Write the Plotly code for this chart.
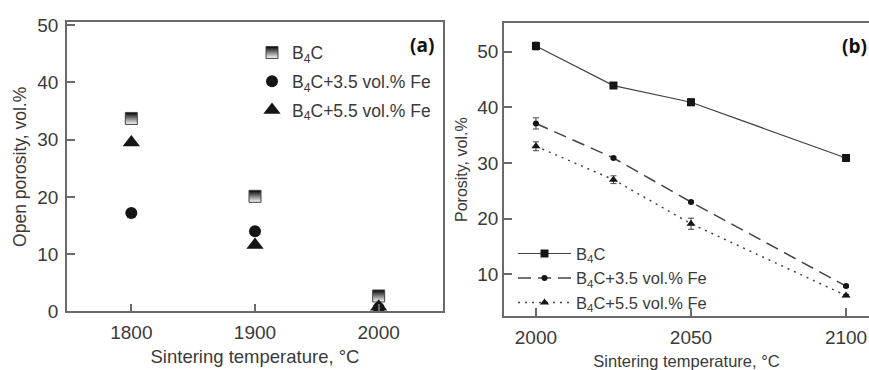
import plotly.graph_objects as go

# ---- data panel (a) ----
temps_a = [1800, 1900, 2000]
b4c_a = [33.7, 20.1, 2.7]
fe35_a = [17.2, 14.0, 0.6]
fe55_a = [29.5, 11.6, 0.8]

# ---- data panel (b) ----
temps_b = [2000, 2025, 2050, 2100]
b4c_b = [51.0, 43.9, 40.9, 30.9]
b4c_b_err = [0.7, 0.3, 0.6, 0.3]
fe35_b = [37.1, 30.9, 23.0, 7.9]
fe35_b_err = [1.0, 0.2, 0.2, 0.2]
fe55_b = [33.0, 27.0, 19.1, 6.2]
fe55_b_err = [0.8, 0.7, 1.0, 0.2]

names = ["B<sub>4</sub>C", "B<sub>4</sub>C+3.5 vol.% Fe", "B<sub>4</sub>C+5.5 vol.% Fe"]

TXT = "#3a3a3a"
AX = "#6a6a6a"
MK = "#151515"
LN = "#444444"
FONT = "Liberation Sans, Arial, sans-serif"

fig = go.Figure()

# panel (a)
fig.add_trace(go.Scatter(x=temps_a, y=b4c_a, mode="markers", name=names[0], legend="legend",
                         legendgroup="a1", xaxis="x", yaxis="y",
                         marker=dict(symbol="square", size=12, color="#000000",
                                     gradient=dict(type="vertical", color="white"),
                                     line=dict(color="#444", width=1))))
fig.add_trace(go.Scatter(x=temps_a, y=fe35_a, mode="markers", name=names[1], legend="legend",
                         legendgroup="a2", xaxis="x", yaxis="y",
                         marker=dict(symbol="circle", size=12, color=MK, line=dict(width=0))))
fig.add_trace(go.Scatter(x=temps_a, y=fe55_a, mode="markers", name=names[2], legend="legend",
                         legendgroup="a3", xaxis="x", yaxis="y",
                         marker=dict(symbol="triangle-up", size=15, color=MK, line=dict(width=0))))

# panel (b)
fig.add_trace(go.Scatter(x=temps_b, y=b4c_b, mode="lines+markers", name=names[0], legend="legend2",
                         xaxis="x2", yaxis="y2",
                         error_y=dict(type="data", array=b4c_b_err, color=LN, thickness=1, width=3),
                         line=dict(color=LN, width=1.2, dash="solid"),
                         marker=dict(symbol="square", size=8, color=MK)))
fig.add_trace(go.Scatter(x=temps_b, y=fe35_b, mode="lines+markers", name=names[1], legend="legend2",
                         xaxis="x2", yaxis="y2",
                         error_y=dict(type="data", array=fe35_b_err, color=LN, thickness=1, width=3),
                         line=dict(color=LN, width=1.5, dash="13px,7px"),
                         marker=dict(symbol="circle", size=6, color=MK)))
fig.add_trace(go.Scatter(x=temps_b, y=fe55_b, mode="lines+markers", name=names[2], legend="legend2",
                         xaxis="x2", yaxis="y2",
                         error_y=dict(type="data", array=fe55_b_err, color=LN, thickness=1, width=3),
                         line=dict(color=LN, width=1.5, dash="2px,5px"),
                         marker=dict(symbol="triangle-up", size=8, color=MK)))

axis_common = dict(showline=True, linecolor=AX, linewidth=1.5, ticks="inside", ticklen=8,
                   tickcolor=AX, tickwidth=1.5, showgrid=False, zeroline=False,
                   tickfont=dict(family=FONT, size=19, color=TXT))

fig.update_layout(
    width=869, height=370,
    margin=dict(l=0, r=0, t=0, b=0),
    paper_bgcolor="white", plot_bgcolor="white",
    font=dict(family=FONT, color=TXT),
    xaxis=dict(domain=[67/869, 443/869], range=[1748, 2052], tickvals=[1800, 1900, 2000],
               mirror=True, anchor="y", ticklabelstandoff=3,
               title=dict(text="Sintering temperature, °C", font=dict(family=FONT, size=18.5, color=TXT), standoff=8),
               **axis_common),
    yaxis=dict(domain=[(370-320)/370, (370-16)/370], range=[0, 50.5], tickvals=[0, 10, 20, 30, 40, 50],
               mirror=True, anchor="x", ticklabelstandoff=3,
               title=dict(text="Open porosity, vol.%", font=dict(family=FONT, size=17.5, color=TXT), standoff=6),
               **axis_common),
    xaxis2=dict(domain=[504/869, 1.0], range=[1989.7, 2107.4], tickvals=[2000, 2050, 2100],
                mirror=True, anchor="y2", ticklabelstandoff=3,
                title=dict(text="Sintering temperature, °C", font=dict(family=FONT, size=16.5, color=TXT), standoff=9),
                **axis_common),
    yaxis2=dict(domain=[(370-325)/370, (370-17)/370], range=[2.5, 55.1], tickvals=[10, 20, 30, 40, 50],
                mirror=False, anchor="x2", ticklabelstandoff=0,
                title=dict(text="Porosity, vol.%", font=dict(family=FONT, size=16, color=TXT), standoff=6),
                **axis_common),
    showlegend=True,
    legend=dict(x=252/869, y=(370-29)/370, xanchor="left", yanchor="top",
                bgcolor="rgba(0,0,0,0)", tracegroupgap=3,
                font=dict(family=FONT, size=17.5, color=TXT)),
    legend2=dict(x=513/869, y=(370-241)/370, xanchor="left", yanchor="top", itemwidth=53,
                 bgcolor="rgba(0,0,0,0)", font=dict(family=FONT, size=16.5, color=TXT)),
    annotations=[
        dict(text="<b>(a)</b>", x=436/869, y=(370-40)/370, xref="paper", yref="paper",
             xanchor="right", yanchor="middle", showarrow=False,
             font=dict(family="Open Sans, sans-serif", size=19, color="#111")),
        dict(text="<b>(b)</b>", x=869/869, y=(370-41)/370, xref="paper", yref="paper",
             xanchor="right", yanchor="middle", showarrow=False,
             font=dict(family="Open Sans, sans-serif", size=19, color="#111")),
    ],
)

fig.write_html("out.html")
